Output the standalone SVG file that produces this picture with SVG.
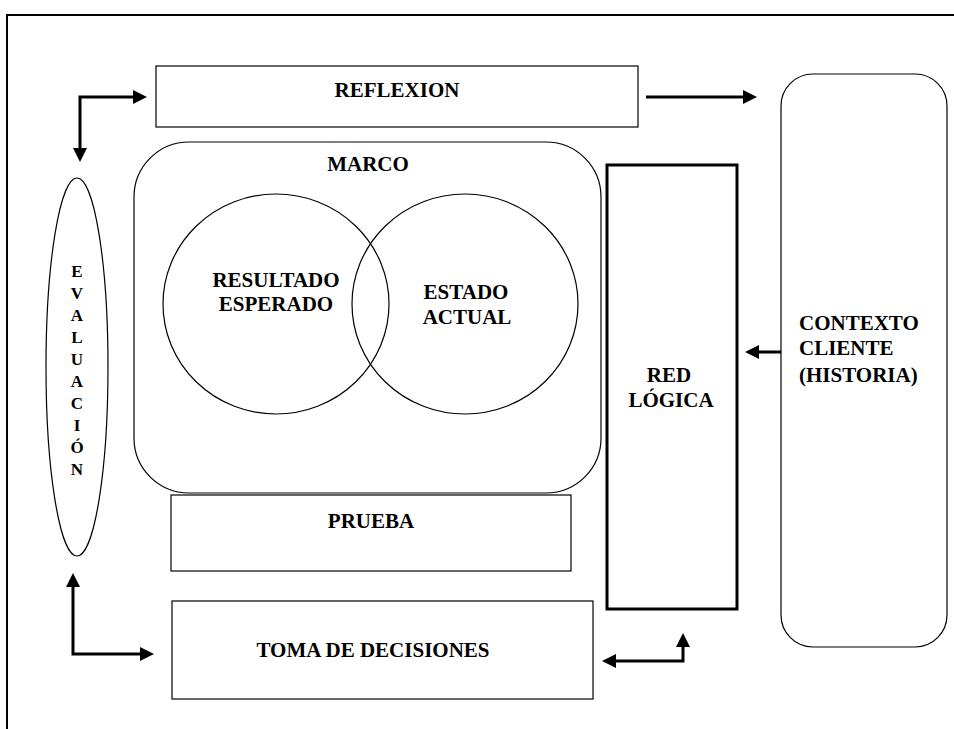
<svg xmlns="http://www.w3.org/2000/svg" width="954" height="729" viewBox="0 0 954 729">
  <style>
    .box { fill: #fff; stroke: #000; stroke-width: 1.2; }
    .heavy { fill: #fff; stroke: #000; stroke-width: 3; }
    .lbl { font-family: "Liberation Serif", "Times New Roman", serif; font-weight: bold; font-size: 21px; fill: #000; }
    .mid { text-anchor: middle; }
    .vert { font-size: 17px; text-anchor: middle; }
    .conn { fill: none; stroke: #000; stroke-width: 3; stroke-linejoin: miter; }
  </style>
  <defs>
    <marker id="head" viewBox="0 0 10 10" refX="0" refY="5" markerUnits="userSpaceOnUse" markerWidth="15" markerHeight="14" orient="auto-start-reverse">
      <path d="M0,0 L10,5 L0,10 z" fill="#000"/>
    </marker>
  </defs>

  <rect width="954" height="729" fill="#fff"/>

  <!-- page frame -->
  <path d="M7,729 L7,15 L954,15" fill="none" stroke="#000" stroke-width="2"/>

  <g id="reflexion">
    <rect class="box" x="156" y="66" width="482" height="61"/>
    <text class="lbl mid" x="397" y="97">REFLEXION</text>
  </g>

  <g id="marco">
    <rect class="box" x="134" y="142" width="467" height="351" rx="55" ry="55"/>
    <text class="lbl mid" x="368" y="171">MARCO</text>
  </g>

  <g id="resultado-esperado">
    <ellipse cx="276" cy="304" rx="113" ry="110" fill="none" stroke="#000" stroke-width="1.2"/>
    <text class="lbl mid" x="276" y="287">RESULTADO</text>
    <text class="lbl mid" x="276" y="311">ESPERADO</text>
  </g>

  <g id="estado-actual">
    <ellipse cx="465" cy="304" rx="113" ry="110" fill="none" stroke="#000" stroke-width="1.2"/>
    <text class="lbl mid" x="466" y="299">ESTADO</text>
    <text class="lbl mid" x="467" y="324">ACTUAL</text>
  </g>

  <g id="prueba">
    <rect class="box" x="171" y="495" width="400" height="76"/>
    <text class="lbl mid" x="371" y="528">PRUEBA</text>
  </g>

  <g id="toma-de-decisiones">
    <rect class="box" x="172" y="601" width="421" height="98"/>
    <text class="lbl mid" x="373" y="657">TOMA DE DECISIONES</text>
  </g>

  <g id="red-logica">
    <rect class="heavy" x="607" y="165" width="130" height="444"/>
    <text class="lbl mid" x="669" y="382">RED</text>
    <text class="lbl mid" x="671" y="407">LÓGICA</text>
  </g>

  <g id="contexto-cliente">
    <rect class="box" x="781" y="74" width="166" height="573" rx="32" ry="32"/>
    <text class="lbl" x="799" y="330">CONTEXTO</text>
    <text class="lbl" x="799" y="355">CLIENTE</text>
    <text class="lbl" x="799" y="382">(HISTORIA)</text>
  </g>

  <g id="evaluacion">
    <ellipse cx="77" cy="367" rx="31" ry="189" fill="#fff" stroke="#000" stroke-width="1.2"/>
    <text class="lbl vert" x="77" y="277">E</text>
    <text class="lbl vert" x="77" y="299">V</text>
    <text class="lbl vert" x="77" y="321">A</text>
    <text class="lbl vert" x="77" y="343">L</text>
    <text class="lbl vert" x="77" y="365">U</text>
    <text class="lbl vert" x="77" y="387">A</text>
    <text class="lbl vert" x="77" y="409">C</text>
    <text class="lbl vert" x="77" y="431">I</text>
    <text class="lbl vert" x="77" y="453">Ó</text>
    <text class="lbl vert" x="77" y="475">N</text>
  </g>

  <g id="connectors">
    <path class="conn" d="M80,148 L80,97 L133,97" marker-start="url(#head)" marker-end="url(#head)"/>
    <path class="conn" d="M646,97 L743,97" marker-end="url(#head)"/>
    <path class="conn" d="M781,352 L759,352" marker-end="url(#head)"/>
    <path class="conn" d="M73,587 L73,654 L140,654" marker-start="url(#head)" marker-end="url(#head)"/>
    <path class="conn" d="M683,647 L683,661 L616,661" marker-start="url(#head)" marker-end="url(#head)"/>
  </g>
</svg>
